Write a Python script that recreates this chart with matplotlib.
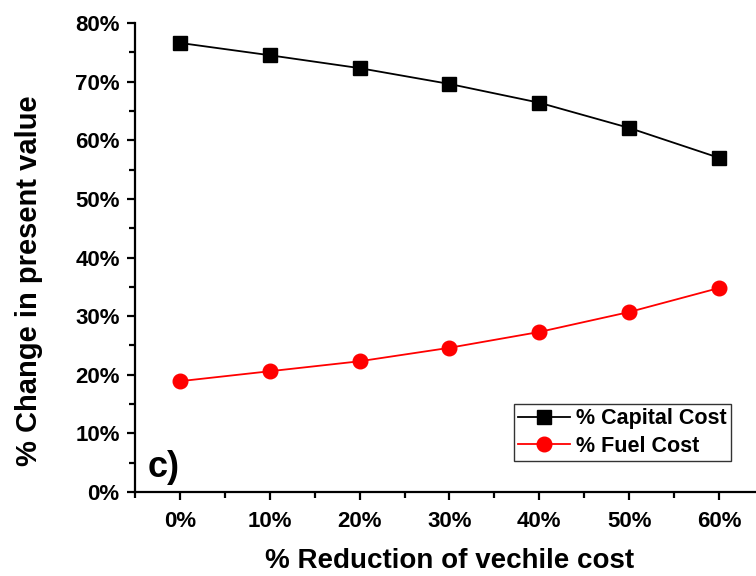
import matplotlib.pyplot as plt
from matplotlib.ticker import MultipleLocator, FuncFormatter

plt.rcParams['font.family'] = ['Liberation Sans', 'DejaVu Sans']
plt.rcParams['font.weight'] = 'bold'

# data
reduction = [0, 10, 20, 30, 40, 50, 60]
capital_cost = [76.6, 74.5, 72.3, 69.6, 66.4, 62.1, 57.0]
fuel_cost = [18.9, 20.6, 22.3, 24.6, 27.3, 30.7, 34.8]

fig = plt.figure(figsize=(7.56, 5.76), dpi=100)
ax = fig.add_axes([135 / 756, 84 / 576, 629 / 756, 469 / 576])

ax.plot(reduction, capital_cost, color='black', lw=1.3, marker='s', ms=10,
        label='% Capital Cost')
ax.plot(reduction, fuel_cost, color='red', lw=1.3, marker='o', ms=10.5,
        label='% Fuel Cost')

ax.set_xlim(-5, 65)
ax.set_ylim(0, 80)
ax.xaxis.set_major_locator(MultipleLocator(10))
ax.xaxis.set_minor_locator(MultipleLocator(5))
ax.yaxis.set_major_locator(MultipleLocator(10))
ax.yaxis.set_minor_locator(MultipleLocator(5))
pct = FuncFormatter(lambda v, p: f'{v:.0f}%')
ax.xaxis.set_major_formatter(pct)
ax.yaxis.set_major_formatter(pct)

for s in ['top', 'right']:
    ax.spines[s].set_visible(False)
for s in ['left', 'bottom']:
    ax.spines[s].set_linewidth(1.6)
ax.spines['bottom'].set_clip_on(False)

ax.tick_params(which='major', direction='out', length=6, width=1.6, labelsize=16)
ax.tick_params(axis='y', which='major', pad=5)
ax.tick_params(axis='x', which='major', pad=8)
ax.tick_params(which='minor', direction='out', length=4, width=1.6)
for lbl in ax.get_xticklabels() + ax.get_yticklabels():
    lbl.set_fontweight('bold')

ax.set_xlabel('% Reduction of vechile cost', fontsize=20, fontweight='bold', labelpad=11)
ax.set_ylabel('% Change in present value', fontsize=21, fontweight='bold')
ax.yaxis.set_label_coords(-0.147, 0.45)

ax.text(-3.6, 2.5, 'c)', fontsize=26, fontweight='bold')

leg = ax.legend(loc='lower left', bbox_to_anchor=(0.602, 0.066), fontsize=15.5,
                frameon=True, fancybox=False, edgecolor='black', borderpad=0.2,
                handlelength=2.4, handletextpad=0.3, labelspacing=0.3,
                borderaxespad=0)
leg.get_frame().set_linewidth(1.0)
for t in leg.get_texts():
    t.set_fontweight('bold')

fig.savefig('out.png', dpi=100)
